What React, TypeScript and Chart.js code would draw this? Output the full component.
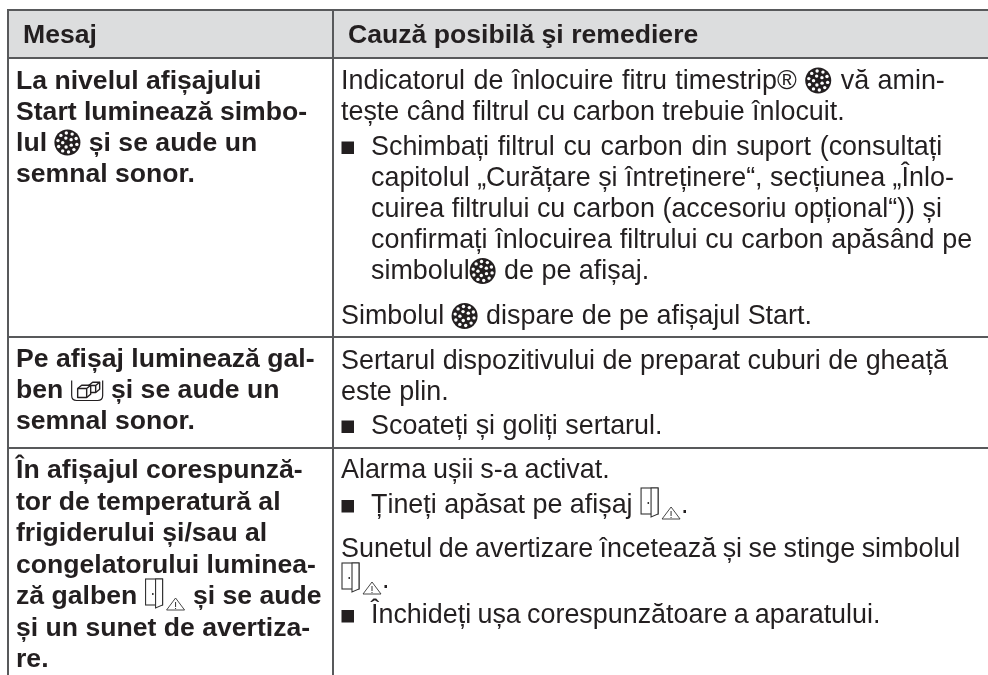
import React, { useEffect, useRef } from "react";
import { Chart, registerables } from "chart.js";

Chart.register(...registerables);

const headers = ["Mesaj", "Cauză posibilă şi remediere"];
const columnEdges = [7.5, 332.5];
const rowEdges = [10, 58, 337, 448];

const messageLines = [
  "La nivelul afișajului",
  "Start luminează simbo-",
  "lul {disc} și se aude un",
  "semnal sonor.",
  "Pe afișaj luminează gal-",
  "ben {cube} și se aude un",
  "semnal sonor.",
  "În afișajul corespunză-",
  "tor de temperatură al",
  "frigiderului și/sau al",
  "congelatorului luminea-",
  "ză galben {door} și se aude",
  "și un sunet de avertiza-",
  "re.",
];
const messageBaselines = [88.5, 119.5, 150.5, 181.5, 366.5, 397.5, 428.5, 478, 509.5, 541, 572.5, 604, 635.5, 667];

const causeLines = [
  "Indicatorul de înlocuire fitru timestrip® {disc} vă amin-",
  "tește când filtrul cu carbon trebuie înlocuit.",
  "{bullet}Schimbați filtrul cu carbon din suport (consultați",
  ">capitolul „Curățare și întreținere“, secțiunea „Înlo-",
  ">cuirea filtrului cu carbon (accesoriu opțional“)) și",
  ">confirmați înlocuirea filtrului cu carbon apăsând pe",
  ">simbolul{disc} de pe afișaj.",
  "Simbolul {disc} dispare de pe afișajul Start.",
  "Sertarul dispozitivului de preparat cuburi de gheață",
  "este plin.",
  "{bullet}Scoateți și goliți sertarul.",
  "Alarma ușii s-a activat.",
  "{bullet}Țineți apăsat pe afișaj {door}.",
  "Sunetul de avertizare încetează și se stinge simbolul",
  "{door}.",
  "{bullet}Închideți ușa corespunzătoare a aparatului.",
];
const causeBaselines = [88.5, 119.5, 154.5, 185.5, 216.5, 248, 279, 324, 368.5, 399.5, 433.5, 478, 513, 557, 588, 623];
const causeWordSpacing = [1, 0, 1.3, 0, 0, 0.3, 0, 0, 0, 0, 0, -0.6, 0, -1, 0, -1.2];

const INK = "#231f20";
const RULE = "#58595b";
const FONT = '"Liberation Sans", Arial, sans-serif';
const BOLD_SIZE = 26.6;
const SIZE = 26.9;

function drawDisc(ctx: CanvasRenderingContext2D, x: number, y: number, r: number) {
  ctx.save();
  ctx.fillStyle = INK;
  ctx.beginPath();
  ctx.arc(x, y, r, 0, Math.PI * 2);
  ctx.fill();
  ctx.fillStyle = "#fff";
  const rings: [number, number, number][] = [
    [0.74, 10, 0.2],
    [0.36, 5, 0.6],
  ];
  for (const [k, n, phase] of rings) {
    for (let i = 0; i < n; i++) {
      const a = phase + (i * Math.PI * 2) / n;
      ctx.beginPath();
      ctx.arc(x + Math.cos(a) * r * k, y + Math.sin(a) * r * k, 1.7, 0, Math.PI * 2);
      ctx.fill();
    }
  }
  ctx.restore();
}

function drawIsoCube(ctx: CanvasRenderingContext2D, x: number, y: number, s: number, d: number) {
  ctx.fillStyle = "#fff";
  ctx.beginPath();
  ctx.moveTo(x, y);
  ctx.lineTo(x + d, y - d * 0.8);
  ctx.lineTo(x + s + d, y - d * 0.8);
  ctx.lineTo(x + s + d, y + s - d * 0.8);
  ctx.lineTo(x + s, y + s);
  ctx.lineTo(x, y + s);
  ctx.closePath();
  ctx.fill();
  ctx.stroke();
  ctx.beginPath();
  ctx.moveTo(x, y);
  ctx.lineTo(x + s, y);
  ctx.lineTo(x + s, y + s);
  ctx.moveTo(x + s, y);
  ctx.lineTo(x + s + d, y - d * 0.8);
  ctx.stroke();
}

function drawCube(ctx: CanvasRenderingContext2D, x: number, base: number) {
  ctx.save();
  ctx.strokeStyle = INK;
  ctx.lineWidth = 1.2;
  ctx.lineJoin = "round";
  ctx.beginPath();
  ctx.moveTo(x + 1, base - 17);
  ctx.lineTo(x + 1, base - 2);
  ctx.quadraticCurveTo(x + 1, base + 3, x + 6, base + 3);
  ctx.lineTo(x + 27, base + 3);
  ctx.quadraticCurveTo(x + 32, base + 3, x + 32, base - 2);
  ctx.lineTo(x + 32, base - 17);
  ctx.stroke();
  ctx.lineWidth = 1.4;
  drawIsoCube(ctx, x + 18, base - 12, 7, 4);
  drawIsoCube(ctx, x + 7, base - 9, 9, 4);
  ctx.restore();
}

function drawDoor(ctx: CanvasRenderingContext2D, x: number, base: number) {
  ctx.save();
  ctx.strokeStyle = "#333";
  ctx.lineWidth = 1.1;
  ctx.strokeRect(x + 1, base - 25, 17, 26);
  ctx.fillStyle = "#fff";
  ctx.beginPath();
  ctx.moveTo(x + 11, base - 25);
  ctx.lineTo(x + 18, base - 25);
  ctx.lineTo(x + 18, base + 1);
  ctx.lineTo(x + 11, base + 4);
  ctx.closePath();
  ctx.fill();
  ctx.stroke();
  ctx.fillStyle = "#333";
  ctx.fillRect(x + 7.5, base - 11, 1.5, 2);
  ctx.beginPath();
  ctx.moveTo(x + 31, base - 6);
  ctx.lineTo(x + 40, base + 6);
  ctx.lineTo(x + 22, base + 6);
  ctx.closePath();
  ctx.lineWidth = 0.9;
  ctx.stroke();
  ctx.fillRect(x + 30.5, base - 2, 1, 5);
  ctx.fillRect(x + 30.5, base + 4, 1, 1);
  ctx.restore();
}

function drawLine(ctx: CanvasRenderingContext2D, line: string, x0: number, y: number, indent: number, ws = 0) {
  let x = x0;
  let text = line;
  (ctx as any).wordSpacing = `${ws}px`;
  if (text.startsWith(">")) {
    x += indent;
    text = text.slice(1);
  }
  const parts = text.split(/(\{[a-z]+\})/).filter(Boolean);
  for (const p of parts) {
    if (p === "{disc}") {
      drawDisc(ctx, x + 13, y - 8, 13);
      x += 27;
    } else if (p === "{cube}") {
      drawCube(ctx, x, y);
      x += 33;
    } else if (p === "{door}") {
      drawDoor(ctx, x, y);
      x += 41;
    } else if (p === "{bullet}") {
      ctx.fillRect(x + 0.5, y - 13, 12.5, 12.5);
      x += indent;
    } else {
      ctx.fillText(p, x, y);
      x += ctx.measureText(p).width;
    }
  }
  (ctx as any).wordSpacing = "0px";
}

const tablePlugin = {
  id: "tableCells",
  beforeDraw(chart: any) {
    const { ctx, scales, chartArea } = chart;
    const py = (v: number) => scales.y.getPixelForValue(v);
    ctx.save();
    ctx.fillStyle = "#ffffff";
    ctx.fillRect(0, 0, chart.width, chart.height);
    ctx.fillStyle = "#dcddde";
    ctx.fillRect(chartArea.left, py(rowEdges[0]), chartArea.width, py(rowEdges[1]) - py(rowEdges[0]));
    ctx.restore();
  },
  afterDraw(chart: any) {
    const { ctx, scales } = chart;
    const px = (v: number) => scales.x.getPixelForValue(v);
    const py = (v: number) => scales.y.getPixelForValue(v);
    ctx.save();
    ctx.fillStyle = INK;
    ctx.textBaseline = "alphabetic";
    ctx.textAlign = "left";
    ctx.font = `bold ${BOLD_SIZE}px ${FONT}`;
    ctx.fillText(headers[0], px(23), py(43));
    ctx.fillText(headers[1], px(348), py(43));
    messageLines.forEach((l, i) => drawLine(ctx, l, px(16), py(messageBaselines[i]), 0));
    ctx.font = `${SIZE}px ${FONT}`;
    causeLines.forEach((l, i) => drawLine(ctx, l, px(341), py(causeBaselines[i]), 30, causeWordSpacing[i]));
    ctx.restore();
  },
};

export default function App() {
  const ref = useRef<HTMLCanvasElement>(null);
  useEffect(() => {
    document.body.style.margin = "0";
    const chart = new Chart(ref.current as HTMLCanvasElement, {
      type: "scatter",
      data: { datasets: [{ data: [] }] },
      plugins: [tablePlugin],
      options: {
        animation: false,
        responsive: false,
        layout: { padding: { left: 7, top: 9, right: 0, bottom: 0 } },
        plugins: { legend: { display: false }, tooltip: { enabled: false } },
        scales: {
          x: {
            type: "linear",
            min: 7,
            max: 988,
            border: { display: false },
            ticks: { display: false },
            grid: { color: RULE, lineWidth: 2, drawTicks: false },
            afterBuildTicks: (axis: any) => {
              axis.ticks = columnEdges.map((value) => ({ value }));
            },
          },
          y: {
            type: "linear",
            min: 9,
            max: 675,
            reverse: true,
            border: { display: false },
            ticks: { display: false },
            grid: { color: RULE, lineWidth: 2, drawTicks: false },
            afterBuildTicks: (axis: any) => {
              axis.ticks = rowEdges.map((value) => ({ value }));
            },
          },
        },
      } as any,
    });
    return () => chart.destroy();
  }, []);
  return <canvas ref={ref} width={988} height={675} style={{ display: "block" }} />;
}
